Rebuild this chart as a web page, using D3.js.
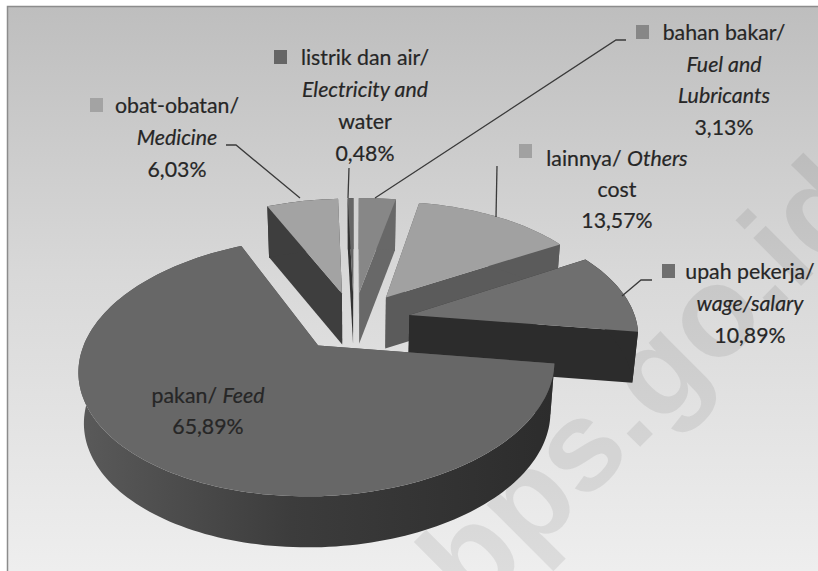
<!DOCTYPE html>
<html><head><meta charset="utf-8">
<script src="https://cdn.jsdelivr.net/npm/d3@7/dist/d3.min.js"></script>
<style>html,body{margin:0;padding:0;background:#fff}svg{display:block}text{font-family:Lato,"Open Sans",sans-serif;fill:#262626}</style>
</head><body><svg id="c" width="818" height="571"></svg>
<script>
const categories = ["pakan","obat","listrik","bahan","lainnya","upah"];
const values = [65.89,6.03,0.48,3.13,13.57,10.89];
const topColors = ["#676767","#a3a3a3","#666666","#878787","#a1a1a1","#6f6f6f"];
const wallColors = ["#4c4c4c","#3e3e3e","#333333","#686868","#5b5b5b","#2c2c2c"];
const labelLines = [
 [["pakan/ ",["Feed"]],["65,89%"]],
 [["obat-obatan/"],[["Medicine"]],["6,03%"]],
 [["listrik dan air/"],[["Electricity and"]],["water"],["0,48%"]],
 [["bahan bakar/"],[["Fuel and"]],[["Lubricants"]],["3,13%"]],
 [["lainnya/ ",["Others"]],["cost"],["13,57%"]],
 [["upah pekerja/"],[["wage/salary"]],["10,89%"]]
];
const watermark = "bps.go.id";

// layout
const cx=354, cy=321, A=227, B=118, persp=0.16, shear=4.5, depth=51, explode=0.25;
const deg=Math.PI/180;
const svg=d3.select("#c");
const defs=svg.append("defs");
const bg=defs.append("linearGradient").attr("id","bg").attr("x1",0).attr("y1",0).attr("x2",0).attr("y2",1);
bg.append("stop").attr("offset",0).attr("stop-color","#bebebe");
bg.append("stop").attr("offset",.45).attr("stop-color","#d8d8d8");
bg.append("stop").attr("offset",1).attr("stop-color","#f0f0f0");
const fw=defs.append("linearGradient").attr("id","feedWall").attr("x1",0).attr("x2",1).attr("y1",0).attr("y2",0);
fw.append("stop").attr("offset",0).attr("stop-color","#5a5a5a");
fw.append("stop").attr("offset",.45).attr("stop-color","#3c3c3c");
fw.append("stop").attr("offset",1).attr("stop-color","#2c2c2c");

svg.append("rect").attr("x",7.5).attr("y",6.5).attr("width",830).attr("height",590).attr("fill","url(#bg)").attr("stroke","#8c8c8c").attr("stroke-width",1.5);
svg.append("text").text(watermark).attr("transform","translate(473,614) rotate(-45)").attr("font-size",128).attr("font-weight",700)
  .style("fill","#000").style("fill-opacity",.075).style("font-family","'Liberation Sans'");

function project(u,v,low){
  const s=1/(1+persp*v);
  let x=cx+A*u*s+shear*v, y=cy-B*v*s;
  if(low){x=cx+(x-cx)*0.98; y+=depth;}
  return [x,y];
}
const line=d3.line();
const pie=d3.pie().sort(null).startAngle(98*deg).endAngle((98+360)*deg);
const arcs=pie(values);

function pt(a,th,r,low){
  const m=(a.startAngle+a.endAngle)/2;
  return project(explode*Math.sin(m)+r*Math.sin(th),explode*Math.cos(m)+r*Math.cos(th),low);
}
function arcThetas(a0,a1){const n=Math.max(2,Math.ceil((a1-a0)/(1.5*deg)));return d3.range(n+1).map(i=>a0+(a1-a0)*i/n);}

const order=[1,2,3,4,5,0];
const g=svg.append("g");
order.forEach(i=>{
  const a=arcs[i];
  const ths=arcThetas(a.startAngle,a.endAngle);
  const wall=i===0?"url(#feedWall)":wallColors[i];
  const cut=t=>[pt(a,t,0,false),pt(a,t,1,false),pt(a,t,1,true),pt(a,t,0,true)];
  g.append("path").attr("d",line(cut(a.startAngle))+"Z").attr("fill",wallColors[i]);
  g.append("path").attr("d",line(cut(a.endAngle))+"Z").attr("fill",wallColors[i]);
  const outer=ths.map(t=>pt(a,t,1,false)).concat(ths.slice().reverse().map(t=>pt(a,t,1,true)));
  g.append("path").attr("d",line(outer)+"Z").attr("fill",wall);
  const top=[pt(a,0,0,false)].concat(ths.map(t=>pt(a,t,1,false)));
  g.append("path").attr("d",line(top)+"Z").attr("fill",topColors[i]);
});

// leader lines
const leaders=[
 [[226,145],[236,145],[300,198]],
 [[349,168],[348,198]],
 [[375,198],[616,40],[626,40]],
 [[497,166],[496,217]],
 [[622,296],[641,280],[652,280]]
];
leaders.forEach(l=>svg.append("path").attr("d",line(l)).attr("fill","none").attr("stroke","#3a3a3a").attr("stroke-width",1.3));

// labels: centre x, first baseline, line step, marker position
const labelPos=[
 {x:208,y:403,step:31,m:null},
 {x:177,y:113,step:32,m:[90,98]},
 {x:365,y:65,step:32,m:[274,50]},
 {x:724,y:40,step:31.5,m:[636,25]},
 {x:617,y:166,step:31,m:[519,144]},
 {x:750,y:279,step:32,m:[662,264]}
];
labelPos.forEach((p,i)=>{
  if(p.m) svg.append("rect").attr("x",p.m[0]).attr("y",p.m[1]).attr("width",13).attr("height",14).attr("fill",topColors[i]);
  labelLines[i].forEach((ln,j)=>{
    const t=svg.append("text").attr("x",p.x).attr("y",p.y+j*p.step).attr("text-anchor","middle").attr("font-size",21.3).style("stroke","#262626").style("stroke-width",.2);
    ln.forEach(seg=>{
      if(Array.isArray(seg)) t.append("tspan").attr("font-style","italic").text(seg[0]);
      else t.append("tspan").text(seg);
    });
  });
});
</script></body></html>
